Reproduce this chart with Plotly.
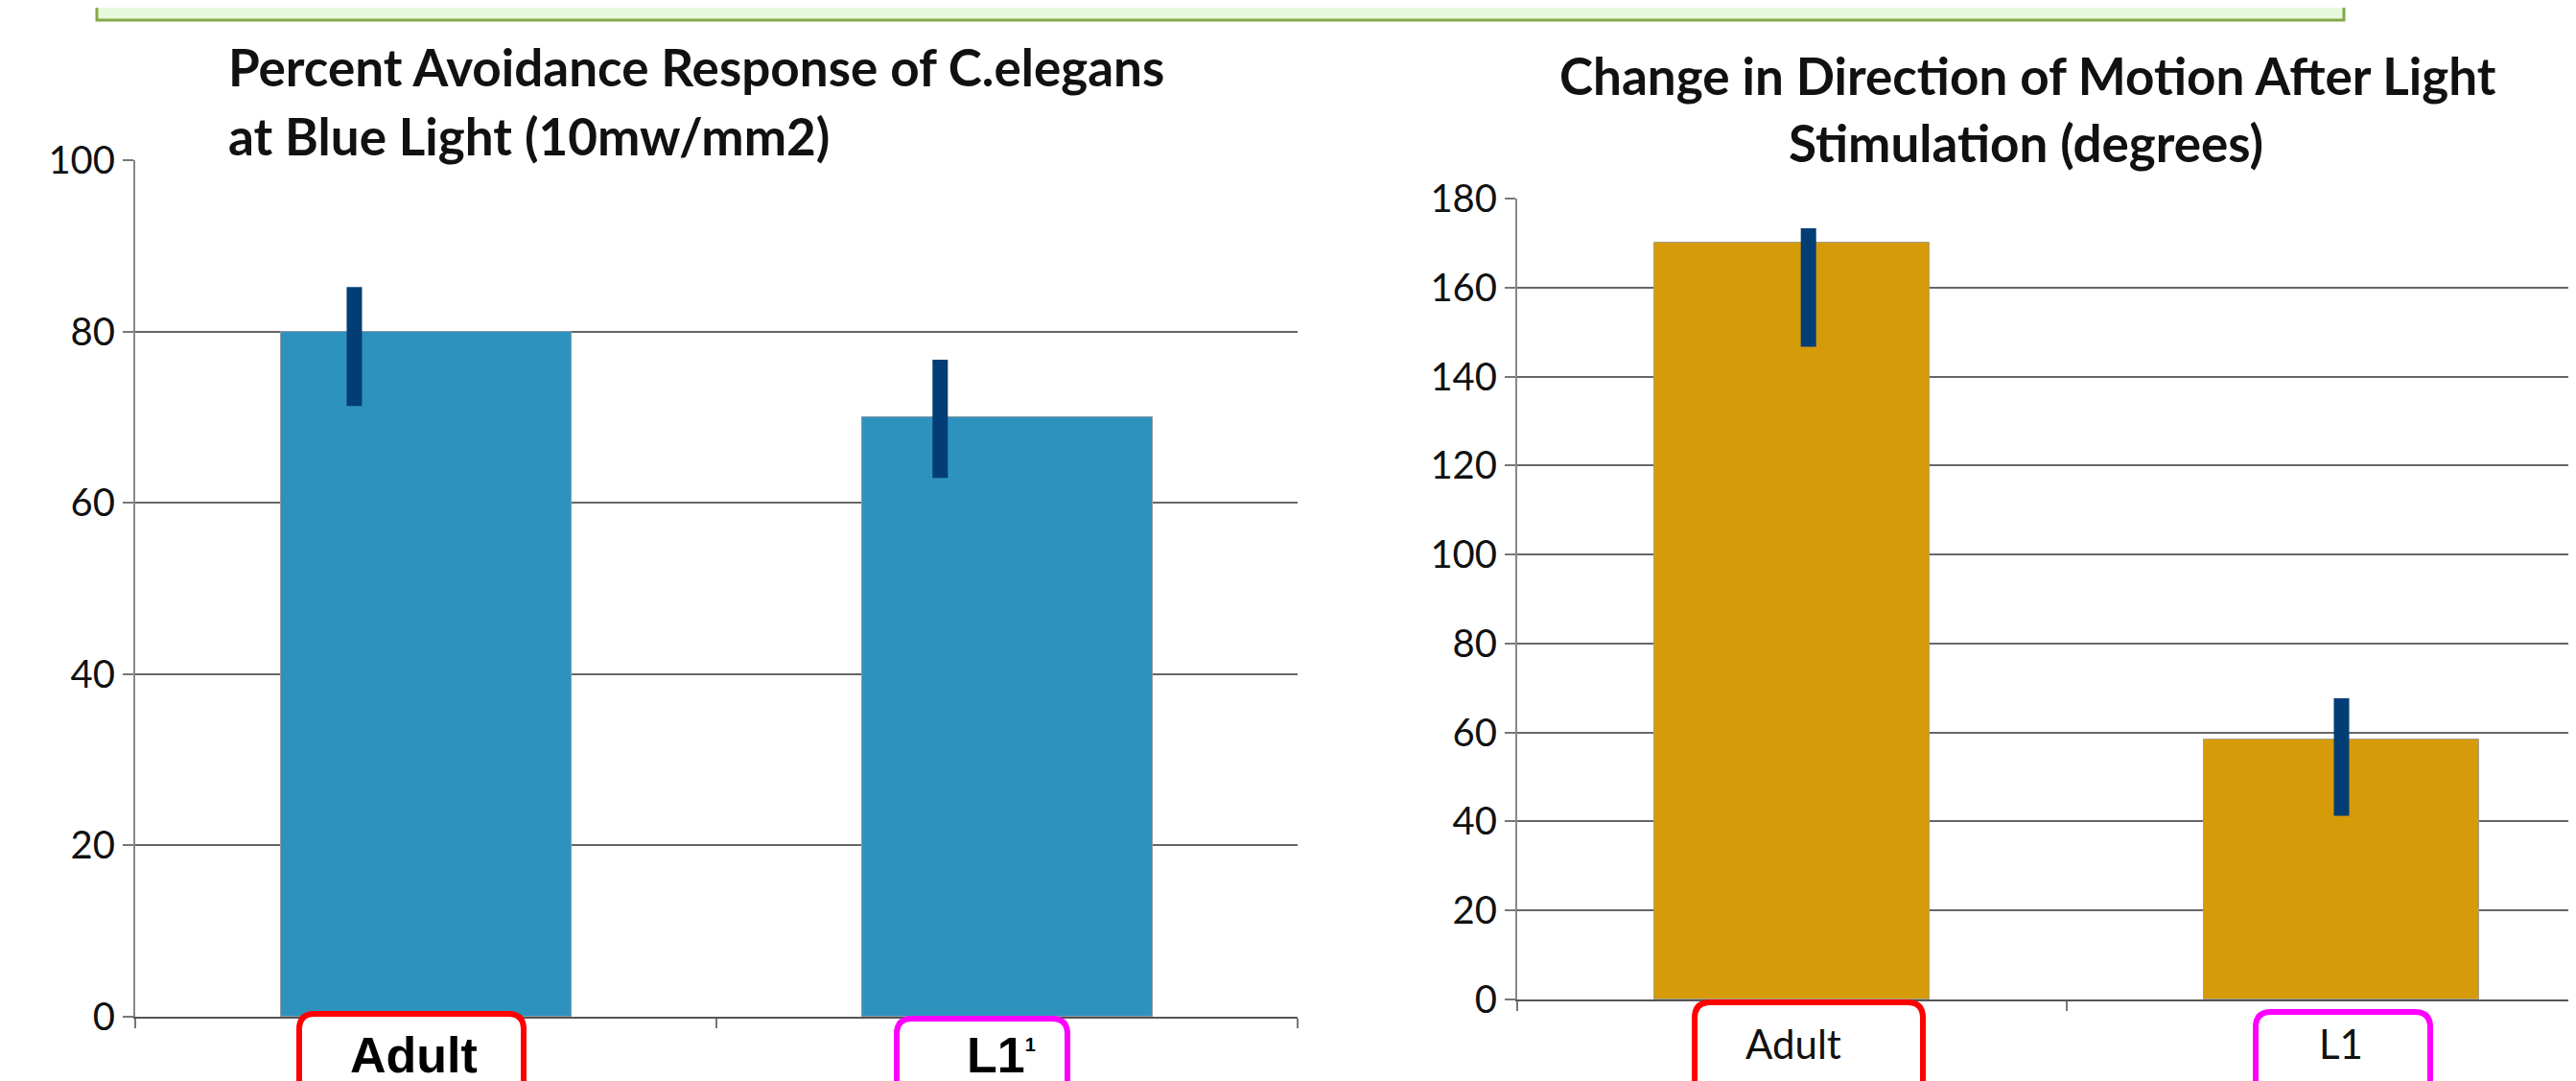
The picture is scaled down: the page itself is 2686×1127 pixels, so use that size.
import plotly.graph_objects as go

# data
stages = ["Adult", "L1"]
avoidance = [80, 70]
avoidance_hi = [85.2, 76.7]
avoidance_lo = [71.3, 62.9]
turn_angle = [170, 58.5]
turn_hi = [173.3, 67.7]
turn_lo = [146.7, 41.3]
left_ticks = [0, 20, 40, 60, 80, 100]
right_ticks = [0, 20, 40, 60, 80, 100, 120, 140, 160, 180]

W, H = 2686, 1127
PAD = 8  # page body margin, positions below are screen pixels


def px(x):
    return (x - PAD) / W


def py(y):
    return 1 - (y - PAD) / H


def rounded_box(x0, y0, x1, y1, r=16):
    rx, ry = r / W, r / H
    X0, X1, Yt, Yb = px(x0), px(x1), py(y0), py(y1)
    return (f"M {X0+rx},{Yt} L {X1-rx},{Yt} Q {X1},{Yt} {X1},{Yt-ry} "
            f"L {X1},{Yb+ry} Q {X1},{Yb} {X1-rx},{Yb} L {X0+rx},{Yb} "
            f"Q {X0},{Yb} {X0},{Yb+ry} L {X0},{Yt-ry} Q {X0},{Yt} {X0+rx},{Yt} Z")


BLUE = "#2e92be"
GOLD = "#d69b09"
NAVY = "#023e75"
GRID = "#666666"

xpos = list(range(len(stages)))
left_shift = [-0.123, -0.115]
right_shift = [0.03, 0.0]

fig = go.Figure()
fig.add_bar(x=xpos, y=avoidance, width=0.5, marker=dict(color=BLUE, line=dict(color="#8a9aa6", width=1)),
            xaxis="x", yaxis="y", showlegend=False)
fig.add_scatter(x=[p + s for p, s in zip(xpos, left_shift)], y=avoidance, mode="markers",
                marker=dict(size=1, color=NAVY), xaxis="x", yaxis="y", showlegend=False,
                error_y=dict(type="data", symmetric=False,
                             array=[h - v for h, v in zip(avoidance_hi, avoidance)],
                             arrayminus=[v - l for l, v in zip(avoidance_lo, avoidance)],
                             color=NAVY, thickness=16, width=0))
fig.add_bar(x=xpos, y=turn_angle, width=0.5, marker=dict(color=GOLD, line=dict(color="#a8a08a", width=1)),
            xaxis="x2", yaxis="y2", showlegend=False)
fig.add_scatter(x=[p + s for p, s in zip(xpos, right_shift)], y=turn_angle, mode="markers",
                marker=dict(size=1, color=NAVY), xaxis="x2", yaxis="y2", showlegend=False,
                error_y=dict(type="data", symmetric=False,
                             array=[h - v for h, v in zip(turn_hi, turn_angle)],
                             arrayminus=[v - l for l, v in zip(turn_lo, turn_angle)],
                             color=NAVY, thickness=16, width=0))

xcommon = dict(tickvals=[-0.5, 0.5, 1.5], showticklabels=False, ticks="outside", ticklen=10,
               tickwidth=2, tickcolor="#777", showline=True, linecolor="#555", linewidth=2,
               showgrid=False, zeroline=False, fixedrange=True, automargin=False)
ycommon = dict(ticks="outside", ticklen=11, tickwidth=2, tickcolor="#777", showline=True,
               linecolor="#888", linewidth=2, showgrid=True, gridcolor=GRID, gridwidth=2,
               zeroline=False, automargin=False, tickfont=dict(family="Lato", size=40, color="#111"))

right_end = W + PAD  # screen x of the figure's right edge
fig.update_layout(
    width=W, height=H, margin=dict(l=0, r=0, t=0, b=0, autoexpand=False),
    paper_bgcolor="white", plot_bgcolor="white", bargap=0,
    xaxis=dict(domain=[px(141), px(1353)], range=[-0.5, 1.5], anchor="y", **xcommon),
    yaxis=dict(domain=[py(1060), py(167)], range=[0, 100], tickvals=left_ticks, anchor="x", **ycommon),
    xaxis2=dict(domain=[px(1582), 1], range=[-0.5, -0.5 + (right_end - 1582) / 573], anchor="y2", **xcommon),
    yaxis2=dict(domain=[py(1042), py(207)], range=[0, 180], tickvals=right_ticks, anchor="x2", **ycommon),
)

# top green banner
fig.add_shape(type="rect", xref="paper", yref="paper", x0=px(101), x1=px(2444), y0=py(21), y1=py(-10),
              fillcolor="#e6f9dc", line=dict(color="#86a84a", width=3), layer="below")

# label boxes
for (x0, y0, x1, y1), col in [((312, 1057, 546, 1150), "#ff0000"), ((935, 1062, 1113, 1150), "#ff00ff"),
                              ((1767, 1045, 2005, 1150), "#ff0000"), ((2352, 1055, 2534, 1150), "#ff00ff")]:
    fig.add_shape(type="path", xref="paper", yref="paper", path=rounded_box(x0, y0, x1, y1),
                  fillcolor="white", line=dict(color=col, width=6), layer="above")


def note(text, x, y, font, xanchor="center"):
    fig.add_annotation(text=text, x=px(x), y=py(y), xref="paper", yref="paper",
                       xanchor=xanchor, yanchor="middle", showarrow=False, font=font)


title_font = dict(family="Lato", size=53, color="#111")
note("<b>Percent Avoidance Response of C.elegans</b>", 236, 70, title_font, "left")
note("<b>at Blue Light (10mw/mm2)</b>", 236, 142, title_font, "left")
note("<b>Change in Direction of Motion After Light</b>", 2114, 78, title_font)
note("<b>Stimulation (degrees)</b>", 2112, 148, title_font)

# category labels
arial = dict(family="Liberation Sans", size=52, color="black")
lato = dict(family="Lato", size=42, color="#111")
note("<b>Adult</b>", 431, 1100, arial)
note("<b>L1<sup><span style='font-size:20px'>1</span></sup></b>", 1044, 1100, arial)
note("Adult", 1870, 1088, lato)
note("L1", 2441, 1088, lato)

fig.write_html("out.html")
